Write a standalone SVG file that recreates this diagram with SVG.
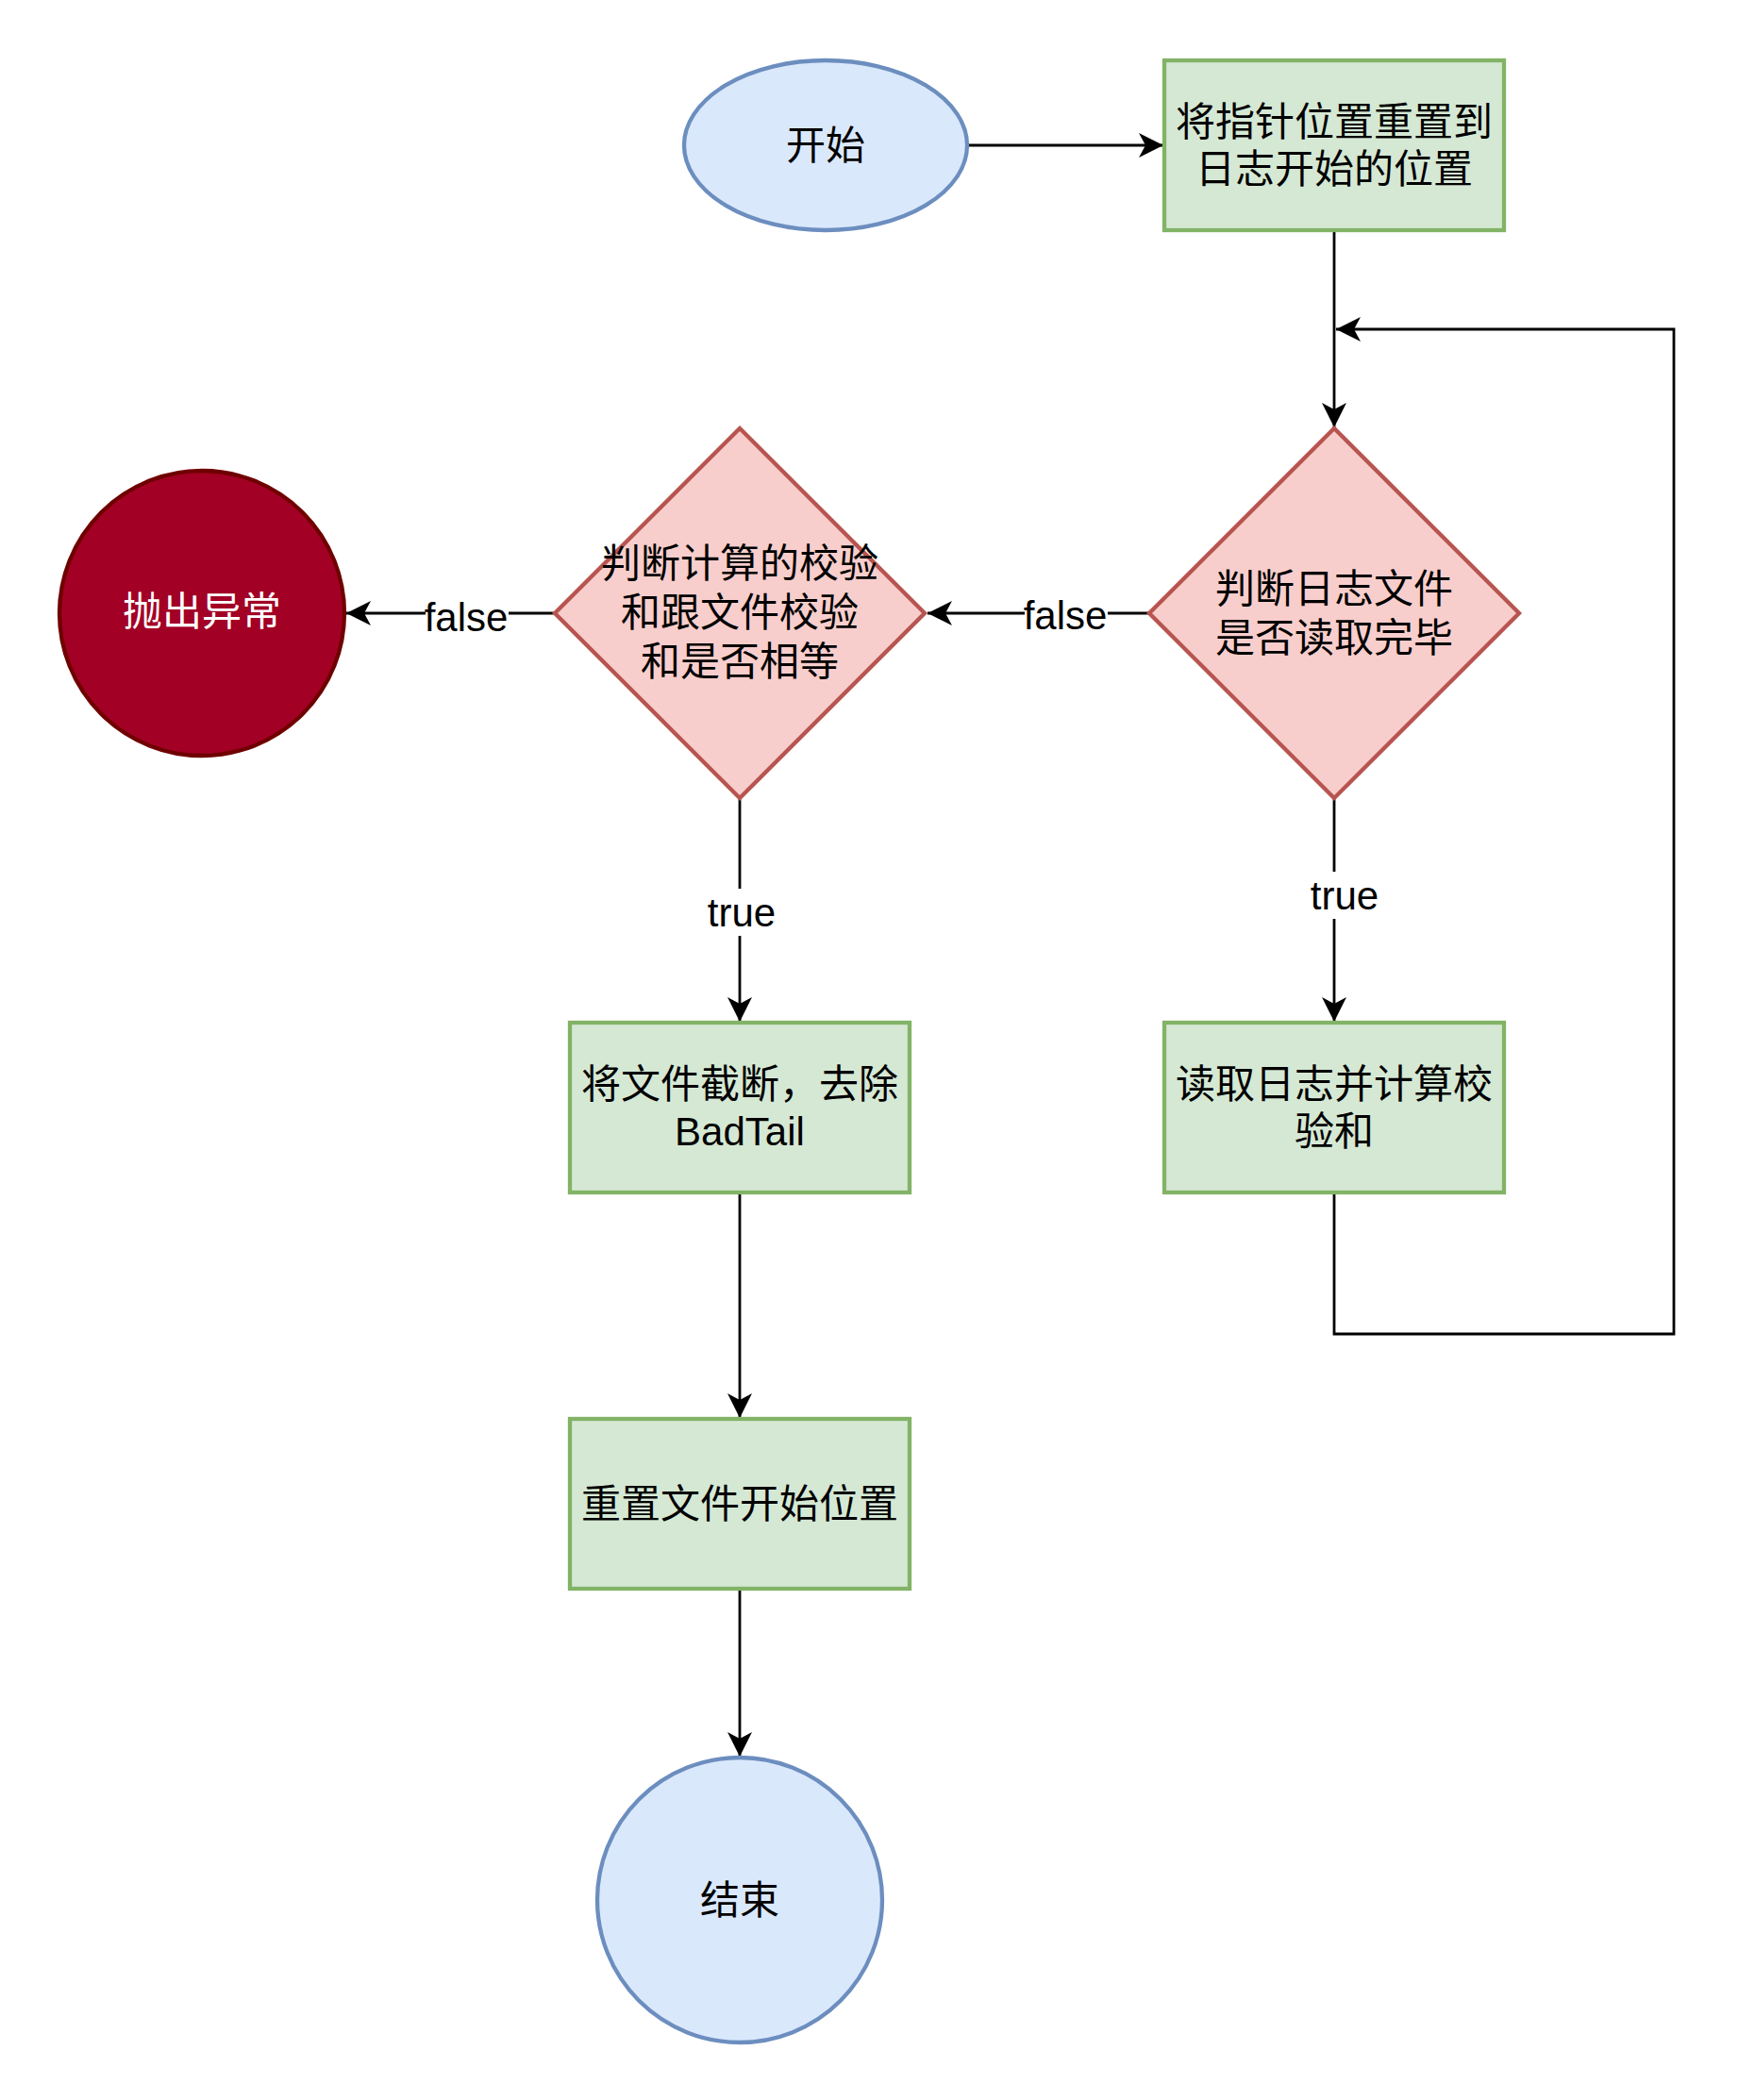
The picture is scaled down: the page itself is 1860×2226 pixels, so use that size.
<svg xmlns="http://www.w3.org/2000/svg" width="1860" height="2226" viewBox="0 0 1860 2226">
<style>
text{font-family:"Liberation Sans","Noto Sans CJK SC",sans-serif;font-size:42px;fill:#000;text-anchor:middle;dominant-baseline:central}
.term{fill:#dae8fc;stroke:#6c8ebf;stroke-width:4.3}
.proc{fill:#d5e8d4;stroke:#82b366;stroke-width:4.3}
.dec{fill:#f8cecc;stroke:#b85450;stroke-width:4.3}
.err{fill:#a20025;stroke:#6f0000;stroke-width:4.3}
.edge{fill:none;stroke:#000;stroke-width:2.8;marker-end:url(#arr)}
.lbg{fill:#fff;stroke:none}
</style>
<defs>
<marker id="arr" markerUnits="userSpaceOnUse" viewBox="0 0 28 28" markerWidth="28" markerHeight="28" refX="27" refY="14" orient="auto">
<path d="M27,14 L1,1 L8,14 L1,27 Z" fill="#000"/>
</marker>
</defs>
<rect width="1860" height="2226" fill="#fff"/>
<g id="connectors">
<path class="edge" d="M1025,154 L1233,154"/>
<path class="edge" d="M1414,244 L1414,453"/>
<path class="edge" d="M1414,1264 L1414,1414 L1774,1414 L1774,349 L1416,349"/>
<path class="edge" d="M1218,650 L983,650"/>
<path class="edge" d="M588,650 L367,650"/>
<path class="edge" d="M784,846 L784,1083"/>
<path class="edge" d="M1414,846 L1414,1083"/>
<path class="edge" d="M784,1264 L784,1503"/>
<path class="edge" d="M784,1684 L784,1862"/>
<rect class="lbg" x="1086" y="630" width="88" height="44"/>
<text x="1129" y="652">false</text>
<rect class="lbg" x="451" y="630" width="88" height="44"/>
<text x="494" y="654">false</text>
<rect class="lbg" x="750" y="942" width="72" height="50"/>
<text x="786" y="967">true</text>
<rect class="lbg" x="1388" y="924" width="72" height="50"/>
<text x="1425" y="949">true</text>
</g>
<g id="start">
<ellipse class="term" cx="875" cy="154" rx="150" ry="90"/>
<text x="875" y="154">开始</text>
</g>
<g id="reset-pointer">
<rect class="proc" x="1234" y="64" width="360" height="180"/>
<text x="1414" y="129">将指针位置重置到</text>
<text x="1414" y="179">日志开始的位置</text>
</g>
<g id="check-eof">
<polygon class="dec" points="1414,454 1610,650 1414,846 1218,650"/>
<text x="1414" y="624">判断日志文件</text>
<text x="1414" y="676">是否读取完毕</text>
</g>
<g id="check-sum">
<polygon class="dec" points="784,454 980,650 784,846 588,650"/>
<text x="784" y="597">判断计算的校验</text>
<text x="784" y="649">和跟文件校验</text>
<text x="784" y="701">和是否相等</text>
</g>
<g id="throw">
<circle class="err" cx="214" cy="650" r="151"/>
<text x="214" y="648" style="fill:#fff">抛出异常</text>
</g>
<g id="read-log">
<rect class="proc" x="1234" y="1084" width="360" height="180"/>
<text x="1414" y="1149">读取日志并计算校</text>
<text x="1414" y="1199">验和</text>
</g>
<g id="truncate">
<rect class="proc" x="604" y="1084" width="360" height="180"/>
<text x="784" y="1149">将文件截断，去除</text>
<text x="784" y="1199">BadTail</text>
</g>
<g id="reset-file">
<rect class="proc" x="604" y="1504" width="360" height="180"/>
<text x="784" y="1594">重置文件开始位置</text>
</g>
<g id="end">
<circle class="term" cx="784" cy="2014" r="151"/>
<text x="784" y="2014">结束</text>
</g>
</svg>
